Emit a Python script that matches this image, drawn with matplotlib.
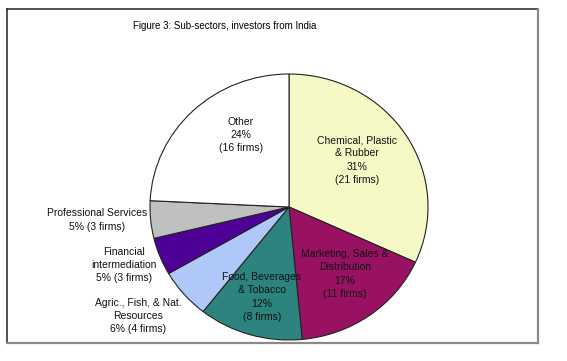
import matplotlib
matplotlib.use("Agg")
import matplotlib.pyplot as plt
from matplotlib.lines import Line2D

plt.rcParams['font.family'] = ['Liberation Sans', 'DejaVu Sans']

categories = ["Chemical, Plastic\n& Rubber", "Marketing, Sales &\nDistribution",
              "Food, Beverages\n& Tobacco", "Agric., Fish, & Nat.\nResources",
              "Financial\nintermediation", "Professional Services", "Other"]
firms = [21, 11, 8, 4, 3, 3, 16]
pct_labels = ["31%", "17%", "12%", "6%", "5%", "5%", "24%"]
colors = ["#F6F9C6", "#991163", "#2D847E", "#B0C8F8", "#4D0197", "#C0C0C0", "#FFFFFF"]

W, H = 567, 361
fig = plt.figure(figsize=(W / 100, H / 100), dpi=100)

def fx(x):
    return x / W

def fy(y):
    return 1 - y / H

# frame: dark top/left, grey right/bottom
L, T, R, B = 6.5, 8.5, 537.5, 342.5
for (x0, y0, x1, y1, c, lw) in [
    (L, T, R, T, "#222222", 1.1),
    (L, T, L, B, "#222222", 1.1),
    (R, T, R, B, "#8a8a8a", 1.6),
    (L, B, R, B, "#8a8a8a", 1.6),
]:
    fig.add_artist(Line2D([fx(x0), fx(x1)], [fy(y0), fy(y1)], transform=fig.transFigure,
                          color=c, linewidth=lw, solid_capstyle='projecting', zorder=-1))

cx, cy, rx, ry = 289, 207, 139, 133
ax = fig.add_axes([fx(cx - rx), fy(cy + ry), 2 * rx / W, 2 * ry / H])
ax.pie(firms, colors=colors, startangle=90, counterclock=False,
       wedgeprops=dict(edgecolor="#222222", linewidth=0.8))
ax.set_aspect('auto')
ax.set_xlim(-1, 1)
ax.set_ylim(-1, 1)
ax.axis('off')

fig.text(fx(225), fy(26), "Figure 3: Sub-sectors, investors from India",
         ha='center', va='center', fontsize=7.05)

# label texts
label_pos = [(357, 160), (345, 274), (262, 297), (138, 316), (124, 265), (97, 220), (241, 135)]
texts = [
    f"{categories[0]}\n{pct_labels[0]}\n({firms[0]} firms)",
    f"{categories[1]}\n{pct_labels[1]}\n({firms[1]} firms)",
    f"{categories[2]}\n{pct_labels[2]}\n({firms[2]} firms)",
    f"{categories[3]}\n{pct_labels[3]} ({firms[3]} firms)",
    f"{categories[4]}\n{pct_labels[4]} ({firms[4]} firms)",
    f"{categories[5]}\n{pct_labels[5]} ({firms[5]} firms)",
    f"{categories[6]}\n{pct_labels[6]}\n({firms[6]} firms)",
]
for (x, y), t in zip(label_pos, texts):
    fig.text(fx(x), fy(y), t, ha='center', va='center', fontsize=7.5,
             linespacing=1.38, color="#111111")

fig.savefig("out.png", dpi=100)
